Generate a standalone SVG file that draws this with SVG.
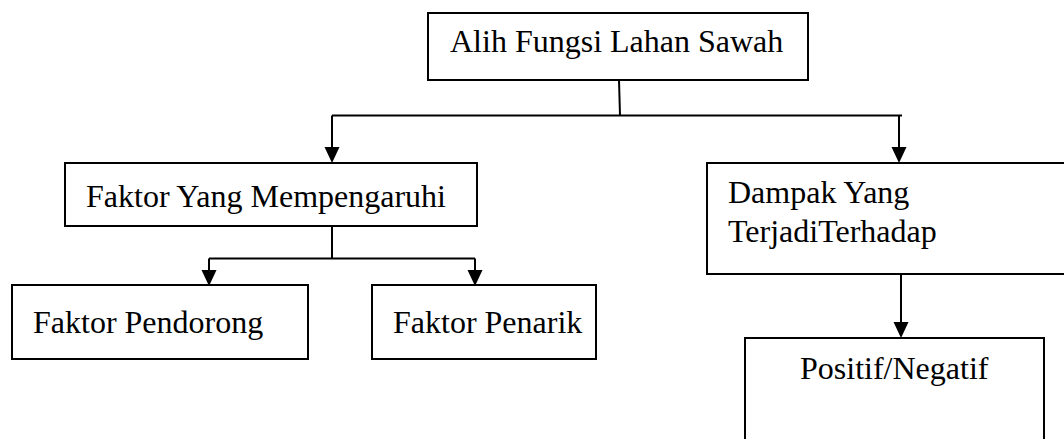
<svg xmlns="http://www.w3.org/2000/svg" width="1064" height="439" viewBox="0 0 1064 439">
<style>
.box{fill:#fff;stroke:#000;stroke-width:2}
.lbl{font-family:"Liberation Serif","Times New Roman",serif;font-size:32px;fill:#000}
.ln{fill:none;stroke:#000;stroke-width:2}
.ah{fill:#000}
</style>
<rect width="1064" height="439" fill="#fff"/>
<g id="connectors">
<path class="ln" d="M619,80 L620,115.5"/>
<path class="ln" d="M332,115.5 L902,115.5"/>
<path class="ln" d="M332,115.5 V147"/>
<polygon class="ah" points="324.5,147 339.5,147 332,163"/>
<path class="ln" d="M899,115.5 V147"/>
<polygon class="ah" points="891.5,147 906.5,147 899,163"/>
<path class="ln" d="M332,226 V258.5"/>
<path class="ln" d="M209,258.5 H475"/>
<path class="ln" d="M209,258.5 V270"/>
<polygon class="ah" points="201.5,270 216.5,270 209,286"/>
<path class="ln" d="M475,258.5 V270"/>
<polygon class="ah" points="467.5,270 482.5,270 475,286"/>
<path class="ln" d="M901,274 V322"/>
<polygon class="ah" points="893.5,322 908.5,322 901,338"/>
</g>
<g id="n-alih">
<rect class="box" x="428" y="13" width="380" height="67"/>
<text class="lbl" x="450" y="52">Alih Fungsi Lahan Sawah</text>
</g>
<g id="n-faktor">
<rect class="box" x="65" y="163" width="412" height="63"/>
<text class="lbl" x="86" y="207">Faktor Yang Mempengaruhi</text>
</g>
<g id="n-dampak">
<rect class="box" x="707" y="163" width="400" height="111"/>
<text class="lbl" x="728" y="203">Dampak Yang</text>
<text class="lbl" x="728" y="242">TerjadiTerhadap</text>
</g>
<g id="n-pendorong">
<rect class="box" x="12" y="285" width="296" height="74"/>
<text class="lbl" x="33" y="333">Faktor Pendorong</text>
</g>
<g id="n-penarik">
<rect class="box" x="372" y="285" width="224" height="74"/>
<text class="lbl" x="393" y="333">Faktor Penarik</text>
</g>
<g id="n-positif">
<rect class="box" x="745" y="338" width="299" height="130"/>
<text class="lbl" x="800" y="379">Positif/Negatif</text>
</g>
</svg>
